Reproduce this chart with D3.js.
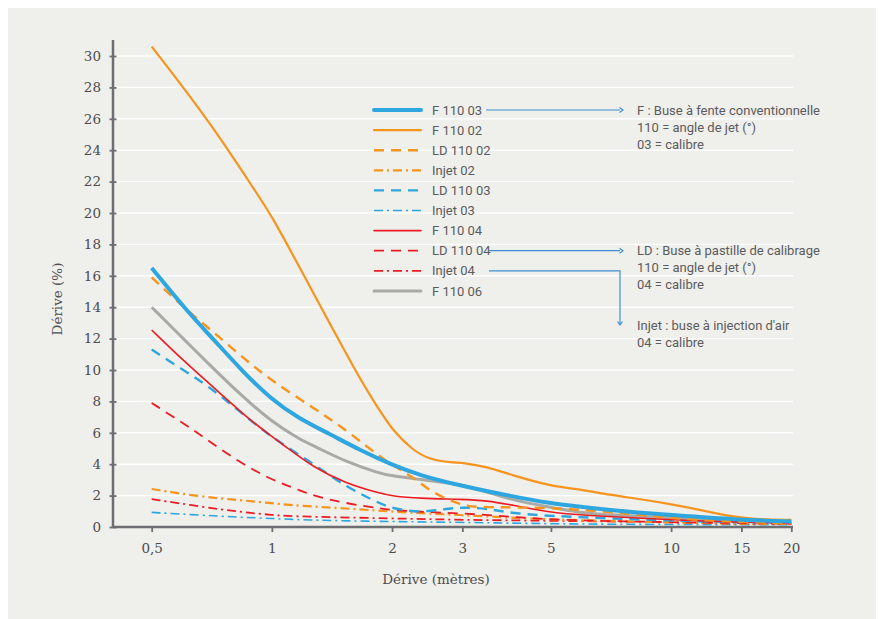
<!DOCTYPE html>
<html>
<head>
<meta charset="utf-8">
<script src="https://cdn.jsdelivr.net/npm/d3@7"></script>
<style>
  body { margin: 0; background: #fff; }
  .tick-label { font-family: "DejaVu Serif", serif; font-size: 13.5px; fill: #4d4d4f; }
  .axis-title { font-family: "DejaVu Serif", serif; font-size: 13.5px; fill: #4d4d4f; }
  .legend-text, .note-text { font-family: Roboto, sans-serif; font-size: 13px; fill: #5b5c5e; }
</style>
</head>
<body>
<div id="chart"></div>
<script>
// values: [distance (m), dérive (%)]
const f11002 = [[0.5,30.6],[0.7,25.8],[0.93,21.0],[1,19.8],[1.17,16.6],[1.66,9.4],[1.86,7.45],[2,6.2],[2.25,4.9],[2.48,4.3],[2.84,4.1],[3,4.1],[3.45,3.85],[4,3.3],[5,2.6],[5.9,2.4],[7,2.05],[8.5,1.75],[10,1.45],[11.8,1.1],[15,0.5],[20,0.45]];
const ld11002 = [[0.5,15.9],[0.6,14.0],[0.7,12.6],[0.845,10.8],[1,9.3],[1.27,7.6],[1.53,6.2],[1.86,4.5],[2,3.95],[2.25,3.2],[2.53,2.15],[3,1.35],[3.3,1.25],[5,1.25],[7.8,0.87],[10,0.55],[15,0.3],[20,0.25]];
const injet02 = [[0.5,2.42],[0.66,1.93],[0.83,1.72],[1,1.51],[1.17,1.35],[1.53,1.19],[2,0.97],[3,0.76],[5,0.45],[10,0.3],[15,0.2],[20,0.2]];
const ld11003 = [[0.5,11.3],[0.6,10.0],[0.7,8.9],[0.845,7.2],[1,5.7],[1.265,4.06],[1.53,2.57],[1.86,1.51],[2,1.19],[2.34,0.91],[2.72,1.15],[3,1.25],[3.45,1.19],[4,0.87],[5,0.7],[7,0.55],[10,0.4],[15,0.3],[20,0.3]];
const injet03 = [[0.5,0.93],[0.66,0.76],[0.83,0.62],[1,0.55],[1.17,0.45],[2,0.34],[3,0.3],[5,0.2],[10,0.15],[20,0.15]];
const f11003 = [[0.5,16.5],[0.62,13.6],[0.7,12.2],[0.845,9.9],[1,8.1],[1.17,6.9],[1.39,5.95],[1.66,4.9],[2,3.95],[2.34,3.3],[3,2.6],[4,1.95],[5,1.5],[5.9,1.3],[7.8,0.97],[10,0.76],[15,0.45],[20,0.35]];
const f11004 = [[0.5,12.55],[0.6,10.6],[0.7,9.1],[0.845,7.2],[1,5.75],[1.1,5.0],[1.265,3.84],[1.53,2.78],[1.86,2.15],[2,1.97],[2.34,1.83],[3,1.76],[3.45,1.68],[4,1.4],[5,0.91],[5.9,0.76],[10,0.45],[15,0.3],[20,0.25]];
const ld11004 = [[0.5,7.9],[0.6,6.6],[0.66,5.9],[0.83,4.1],[1,3.0],[1.17,2.36],[1.265,2.0],[1.53,1.51],[1.86,1.19],[2,1.08],[2.34,0.97],[3,0.87],[4,0.66],[5,0.45],[10,0.3],[15,0.25],[20,0.2]];
const injet04 = [[0.5,1.78],[0.66,1.3],[0.83,0.97],[1,0.76],[1.17,0.66],[2,0.55],[3,0.45],[5,0.4],[10,0.3],[15,0.2],[20,0.2]];
const f11006 = [[0.5,14.0],[0.6,12.0],[0.7,10.3],[0.845,8.3],[1,6.7],[1.17,5.6],[1.29,5.1],[1.53,4.16],[1.86,3.42],[2,3.25],[2.34,3.04],[2.72,2.82],[3,2.67],[3.45,2.25],[4,1.72],[5,1.25],[5.9,0.91],[7,0.76],[10,0.6],[15,0.4],[20,0.3]];

const xTicks = [0.5, 1, 2, 3, 5, 10, 15, 20];
const xTickLabels = ["0,5", "1", "2", "3", "5", "10", "15", "20"];
const yTicks = [0, 2, 4, 6, 8, 10, 12, 14, 16, 18, 20, 22, 24, 26, 28, 30];

const noteF = ["F : Buse à fente conventionnelle", "110 = angle de jet (°)", "03 = calibre"];
const noteLD = ["LD : Buse à pastille de calibrage", "110 = angle de jet (°)", "04 = calibre"];
const noteInjet = ["Injet : buse à injection d'air", "04 = calibre"];

const blue = "#2ea6df", orange = "#f7941d", red = "#ed1c24", grey = "#a9aaa6";
const dash = "10,7", dashDot = "9,4,2,4";

// legend order
const series = [
  { name: "F 110 03",   data: f11003,  color: blue,   width: 4,   dash: null },
  { name: "F 110 02",   data: f11002,  color: orange, width: 2.2, dash: null },
  { name: "LD 110 02",  data: ld11002, color: orange, width: 2.4, dash: dash },
  { name: "Injet 02",   data: injet02, color: orange, width: 2.2, dash: dashDot },
  { name: "LD 110 03",  data: ld11003, color: blue,   width: 2.4, dash: dash },
  { name: "Injet 03",   data: injet03, color: blue,   width: 1.6, dash: dashDot },
  { name: "F 110 04",   data: f11004,  color: red,    width: 1.6, dash: null },
  { name: "LD 110 04",  data: ld11004, color: red,    width: 1.8, dash: dash },
  { name: "Injet 04",   data: injet04, color: red,    width: 1.8, dash: dashDot },
  { name: "F 110 06",   data: f11006,  color: grey,   width: 3,   dash: null }
];
// drawing order, thick blue on top
const drawOrder = ["F 110 06", "Injet 03", "Injet 04", "Injet 02", "LD 110 04", "LD 110 03", "F 110 04", "LD 110 02", "F 110 02", "F 110 03"];

const W = 883, H = 619;
const plot = { left: 113, right: 793, top: 40, bottom: 527 };

const svg = d3.select("#chart").append("svg")
  .attr("width", W)
  .attr("height", H);

svg.append("rect")
  .attr("x", 8).attr("y", 8)
  .attr("width", 868).attr("height", 611)
  .attr("fill", "#efefeb");

const x = d3.scaleLog()
  .domain([0.4, 20.2])
  .range([plot.left, plot.right]);

const y = d3.scaleLinear()
  .domain([0, 30])
  .range([plot.bottom, 56]);

// grid
svg.append("g").selectAll("line")
  .data(yTicks.filter(d => d > 0))
  .enter().append("line")
  .attr("x1", plot.left).attr("x2", plot.right)
  .attr("y1", d => y(d)).attr("y2", d => y(d))
  .attr("stroke", "#fff")
  .attr("stroke-width", 1.4);

// y axis
const yAxis = svg.append("g")
  .attr("transform", `translate(${plot.left},0)`)
  .call(d3.axisLeft(y).tickValues(yTicks).tickSize(0).tickPadding(12));
yAxis.select(".domain").remove();
yAxis.selectAll("text").attr("class", "tick-label").attr("font-family", null).attr("font-size", null);
yAxis.selectAll(".tick").append("line")
  .attr("x1", -3.5).attr("x2", 3.5)
  .attr("stroke", "#6d6e71").attr("stroke-width", 1.8);

// x axis
const xAxis = svg.append("g")
  .attr("transform", `translate(0,${plot.bottom})`)
  .call(d3.axisBottom(x).tickValues(xTicks).tickSize(0).tickPadding(16)
    .tickFormat((d, i) => xTickLabels[i]));
xAxis.select(".domain").remove();
xAxis.selectAll("text").attr("class", "tick-label").attr("font-family", null).attr("font-size", null);
xAxis.selectAll(".tick").append("line")
  .attr("y1", 0).attr("y2", 5)
  .attr("stroke", "#6d6e71").attr("stroke-width", 1.8);

svg.append("line")
  .attr("x1", plot.left).attr("x2", plot.right)
  .attr("y1", plot.bottom).attr("y2", plot.bottom)
  .attr("stroke", "#6d6e71").attr("stroke-width", 2.5);
svg.append("line")
  .attr("x1", plot.left).attr("x2", plot.left)
  .attr("y1", plot.top).attr("y2", plot.bottom + 1)
  .attr("stroke", "#6d6e71").attr("stroke-width", 2.5);

svg.append("text")
  .attr("class", "axis-title")
  .attr("text-anchor", "middle")
  .attr("transform", "translate(62,299) rotate(-90)")
  .text("Dérive (%)");

svg.append("text")
  .attr("class", "axis-title")
  .attr("text-anchor", "middle")
  .attr("x", 436).attr("y", 584)
  .text("Dérive (mètres)");

// curves, smoothed like the source drawing
const line = d3.line()
  .x(d => x(d[0]))
  .y(d => y(d[1]))
  .curve(d3.curveBasis);

svg.append("g").selectAll("path")
  .data(drawOrder.map(n => series.find(s => s.name === n)))
  .enter().append("path")
  .attr("d", d => line(d.data))
  .attr("fill", "none")
  .attr("stroke", d => d.color)
  .attr("stroke-width", d => d.width)
  .attr("stroke-dasharray", d => d.dash)
  .attr("stroke-linejoin", "round");

// legend
const legY = i => 110 + i * 20.1;
const legend = svg.append("g").selectAll("g")
  .data(series)
  .enter().append("g")
  .attr("transform", (d, i) => `translate(0,${legY(i)})`);

legend.append("line")
  .attr("x1", 374).attr("x2", 421)
  .attr("stroke", d => d.color)
  .attr("stroke-width", d => d.width)
  .attr("stroke-dasharray", d => d.dash)
  .attr("stroke-linecap", d => d.dash ? null : "round");

legend.append("text")
  .attr("class", "legend-text")
  .attr("x", 432)
  .attr("dy", "0.36em")
  .text(d => d.name);

// notes with connectors
const noteColor = "#3f8fd2";
const connectors = svg.append("g")
  .attr("fill", "none")
  .attr("stroke", noteColor)
  .attr("stroke-width", 1.2);

connectors.append("path").attr("d", `M486,${legY(0)}H620`);
connectors.append("path").attr("d", `M619.5,${legY(0) - 2.5}L623,${legY(0)}L619.5,${legY(0) + 2.5}`);
connectors.append("path").attr("d", `M489,${legY(7)}H620`);
connectors.append("path").attr("d", `M619.5,${legY(7) - 2.5}L623,${legY(7)}L619.5,${legY(7) + 2.5}`);
connectors.append("path").attr("d", `M489,${legY(8)}H620V324`);
connectors.append("path").attr("d", "M617.5,321.5L620,325L622.5,321.5");

function addNote(lines, y0) {
  svg.append("g").selectAll("text")
    .data(lines)
    .enter().append("text")
    .attr("class", "note-text")
    .attr("x", 637)
    .attr("y", (d, i) => y0 + i * 17)
    .attr("dy", "0.36em")
    .text(d => d);
}
addNote(noteF, legY(0));
addNote(noteLD, legY(7));
addNote(noteInjet, 325);
</script>
</body>
</html>
